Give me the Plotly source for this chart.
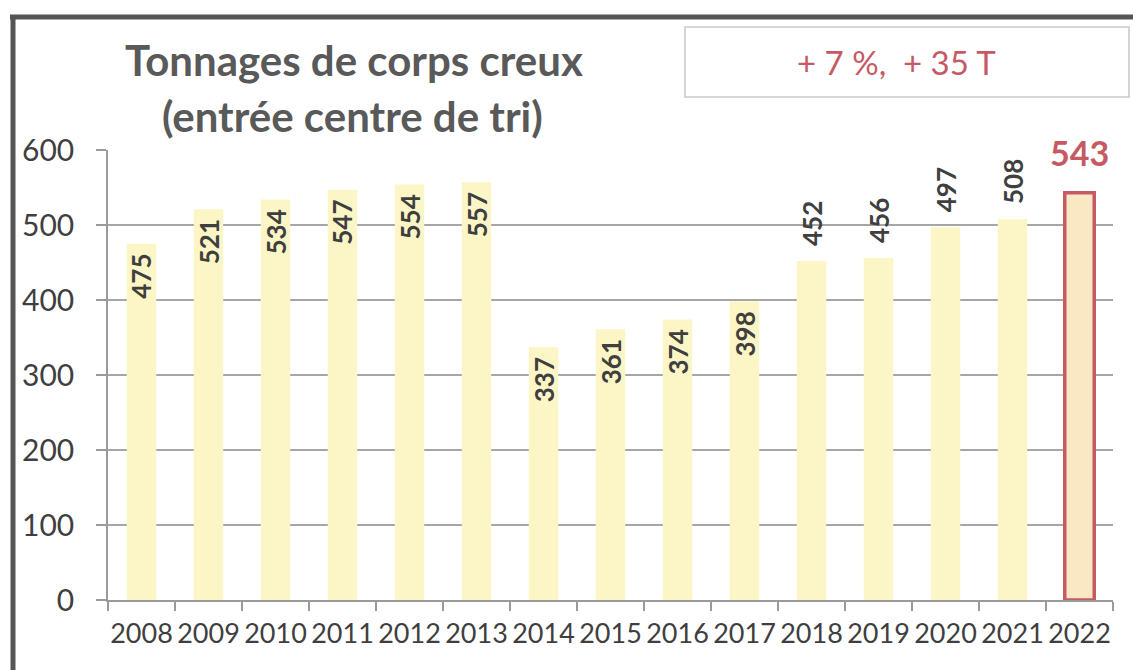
import plotly.graph_objects as go

years = ["2008", "2009", "2010", "2011", "2012", "2013", "2014", "2015",
         "2016", "2017", "2018", "2019", "2020", "2021", "2022"]
tonnages = [475, 521, 534, 547, 554, 557, 337, 361, 374, 398, 452, 456, 497, 508, 543]
label_inside = [True] * 10 + [False] * 5
title_line1 = "Tonnages de corps creux"
title_line2 = "(entrée centre de tri)"
box_text = "+ 7 %,  + 35 T"
y_ticks = [0, 100, 200, 300, 400, 500, 600]

W, H = 1133, 670
L, R, T, B = 108, 1113, 150, 600
FONT = "Lato"
BAR_FILL = "#fcf6c6"
LAST_FILL = "#fae8c4"
RED = "#c55a64"
TXT = "#3f3f3f"


def px2x(px):
    return (px - L) / (R - L)


def py2y(py):
    return (B - py) / (B - T)


n = len(years)
fills = [BAR_FILL] * (n - 1) + [LAST_FILL]
line_cols = [BAR_FILL] * (n - 1) + [RED]
line_w = [0] * (n - 1) + [3.5]

fig = go.Figure(go.Bar(
    x=years, y=tonnages,
    marker=dict(color=fills, line=dict(color=line_cols, width=line_w)),
    hoverinfo="x+y",
))

annotations = []
for i, (v, inside) in enumerate(zip(tonnages[:-1], label_inside[:-1])):
    annotations.append(dict(
        x=i, y=v, xref="x", yref="y", text=str(v), showarrow=False,
        textangle=-90, font=dict(family=FONT, size=26, color=TXT, weight="bold"),
        xanchor="center", yanchor="top" if inside else "bottom",
        yshift=-8 if inside else 13,
    ))
annotations.append(dict(
    x=n - 1, y=tonnages[-1], xref="x", yref="y", text=str(tonnages[-1]),
    showarrow=False, font=dict(family=FONT, size=34, color=RED, weight="bold"),
    xanchor="center", yanchor="bottom", yshift=18,
))
annotations += [
    dict(x=px2x(354), y=py2y(60), xref="paper", yref="paper", text=title_line1,
         showarrow=False, xanchor="center", yanchor="middle",
         font=dict(family=FONT, size=42, color="#595959", weight="bold")),
    dict(x=px2x(352), y=py2y(116), xref="paper", yref="paper", text=title_line2,
         showarrow=False, xanchor="center", yanchor="middle",
         font=dict(family=FONT, size=42, color="#595959", weight="bold")),
    dict(x=px2x(896), y=py2y(62), xref="paper", yref="paper", text=box_text,
         showarrow=False, xanchor="center", yanchor="middle",
         font=dict(family=FONT, size=33, color=RED)),
]

shapes = [
    dict(type="rect", xref="paper", yref="paper",
         x0=px2x(685), x1=px2x(1129), y0=py2y(97), y1=py2y(27),
         line=dict(color="#c8c8c8", width=1.5), fillcolor="rgba(0,0,0,0)"),
    dict(type="line", xref="paper", yref="paper",
         x0=px2x(10), x1=px2x(1150), y0=py2y(17), y1=py2y(17),
         line=dict(color="#555555", width=5)),
    dict(type="line", xref="paper", yref="paper",
         x0=px2x(13), x1=px2x(13), y0=py2y(15), y1=py2y(690),
         line=dict(color="#555555", width=5)),
]

fig.update_layout(
    width=W, height=H,
    margin=dict(l=L, r=W - R, t=T, b=H - B),
    paper_bgcolor="white", plot_bgcolor="white",
    bargap=0.56, showlegend=False,
    annotations=annotations, shapes=shapes,
    font=dict(family=FONT, color=TXT),
)
fig.update_xaxes(
    type="category", range=[-0.5, n - 0.5], showgrid=False, showline=True,
    linecolor="#9a9a9a", linewidth=1.5, ticks="outside", tickson="boundaries",
    ticklen=9, tickcolor="#9a9a9a", tickwidth=1.5, tickangle=0,
    tickfont=dict(family=FONT, size=27, color=TXT), ticklabelstandoff=9,
)
fig.update_yaxes(
    range=[0, 600], tickvals=y_ticks, showgrid=True, gridcolor="#a6a6a6",
    gridwidth=1.5, showline=True, linecolor="#9a9a9a", linewidth=1.5,
    ticks="outside", ticklen=10, tickcolor="#9a9a9a", tickwidth=1.5,
    tickfont=dict(family=FONT, size=30, color=TXT), ticklabelstandoff=16,
    zeroline=False,
)

fig.write_html("out.html", config={"displayModeBar": False},
               post_script="document.body.style.margin='0';")
